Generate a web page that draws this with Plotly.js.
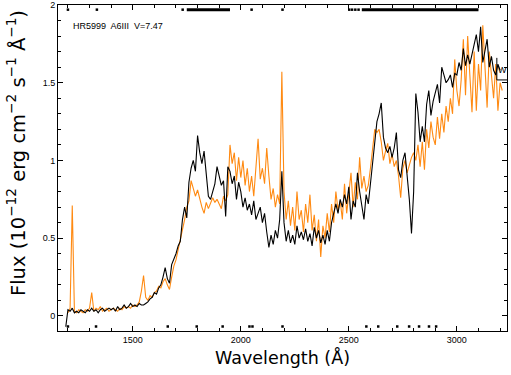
<!DOCTYPE html>
<html><head><meta charset="utf-8">
<script src="https://cdn.plot.ly/plotly-3.0.1.min.js"></script>
<style>html,body{margin:0;padding:0;background:#fff}#chart{width:511px;height:375px}</style>
</head><body><div id="chart"></div>
<script>
// Wavelength grids (Angstrom): start and step of the sampled spectra
const blackStart = 1190, orangeStart = 1200, gridStep = 10;

// Black spectrum flux (1e-12 erg cm-2 s-1 A-1), 1190..3200 every 10 A
const blackFlux = [
 -0.07,0.04,0.03,0.05,0.02,0.03,0.02,0.04,0.03,0.02,0.04,
 0.03,0.05,0.03,0.04,0.02,0.04,0.05,0.03,0.04,0.05,
 0.04,0.05,0.03,0.06,0.04,0.05,0.07,0.05,0.06,0.08,
 0.06,0.07,0.06,0.08,0.07,0.07,0.08,0.09,0.11,0.12,
 0.15,0.14,0.18,0.20,0.25,0.31,0.24,0.21,0.33,0.36,
 0.40,0.45,0.48,0.62,0.70,0.63,0.86,0.95,1.00,0.93,
 1.16,1.05,0.98,1.06,0.90,0.77,0.75,0.80,0.85,0.96,
 0.90,0.84,0.87,0.64,0.96,0.93,0.85,0.90,0.75,0.86,
 0.80,0.70,0.76,0.68,0.72,0.65,0.74,0.62,0.66,0.70,
 0.60,0.66,0.54,0.44,0.52,0.46,0.55,0.50,0.62,0.93,
 0.60,0.48,0.55,0.47,0.52,0.46,0.58,0.50,0.54,0.49,
 0.56,0.48,0.53,0.45,0.57,0.50,0.55,0.47,0.52,0.46,
 0.55,0.48,0.60,0.66,0.72,0.66,0.75,0.70,0.78,0.72,
 0.83,0.62,0.74,0.70,0.92,0.80,0.70,0.62,0.78,0.72,
 0.85,1.00,1.13,1.25,1.30,1.37,1.15,1.08,1.05,1.09,
 1.02,1.08,1.18,0.94,0.89,1.00,1.05,0.92,0.75,0.53,
 0.80,1.43,1.31,1.12,1.22,1.12,1.36,1.45,1.29,1.38,
 1.44,1.49,1.37,1.60,1.55,1.50,1.52,1.55,1.47,1.56,
 1.55,1.63,1.58,1.72,1.61,1.68,1.62,1.68,1.74,1.81,
 1.70,1.86,1.63,1.70,1.78,1.60,1.67,1.58,1.55,1.62,1.58
];

// Orange spectrum flux, 1200..3210 every 10 A
const orangeFlux = [
 0.02,0.05,0.71,0.03,0.02,0.04,0.03,0.02,0.04,0.03,
 0.05,0.15,0.03,0.05,0.04,0.06,0.03,0.04,0.05,0.03,
 0.04,0.05,0.04,0.03,0.05,0.04,0.06,0.05,0.06,0.05,
 0.07,0.06,0.07,0.09,0.16,0.26,0.12,0.10,0.13,0.12,
 0.15,0.16,0.19,0.18,0.22,0.24,0.20,0.17,0.25,0.32,
 0.36,0.42,0.50,0.55,0.62,0.70,0.74,0.87,0.82,0.77,
 0.81,0.75,0.70,0.66,0.73,0.69,0.72,0.76,0.73,0.75,
 0.72,0.69,0.77,0.74,0.78,1.10,0.98,1.05,0.87,1.02,
 0.89,1.00,0.84,0.95,0.80,0.90,0.77,0.98,1.14,0.88,
 0.95,0.85,1.08,0.90,0.75,0.82,0.70,0.78,0.72,1.57,
 0.80,0.62,0.74,0.58,0.70,0.55,0.80,0.62,0.68,0.54,
 0.72,0.60,0.78,0.55,0.65,0.48,0.62,0.38,0.58,0.50,
 0.66,0.54,0.72,0.60,0.80,0.68,0.74,0.62,0.85,0.66,
 0.80,0.92,0.70,0.86,0.75,1.02,0.82,0.90,0.80,0.84,
 0.95,1.07,1.20,1.18,1.20,1.12,1.00,1.06,1.11,0.98,
 1.04,0.96,1.00,0.90,0.76,0.95,1.00,0.92,0.98,1.02,
 1.05,1.00,1.10,0.96,1.12,0.94,1.20,1.08,1.25,1.15,
 1.10,1.28,1.14,1.30,1.18,1.35,1.25,1.40,1.30,1.65,
 1.45,1.35,1.52,1.78,1.42,1.80,1.55,1.31,1.70,1.32,
 1.62,1.45,1.87,1.60,1.34,1.70,1.52,1.40,1.62,1.32,1.50,1.45
];

// Flag wavelengths drawn along the top (bad-pixel flags) and bottom (marks)
const topBarStart = [1750, 2560];
const topBarEnd   = [1950, 3100];
const topDots = [1200, 1334, 1731, 2050, 2193, 2502, 2515, 2530, 2545];
const bottomMarks = [1200, 1330, 1662, 1796, 1916, 2040, 2054, 2193, 2581, 2636, 2724, 2779, 2825, 2871, 2904];

const xTicks = [1500, 2000, 2500, 3000];
const yTicks = [0, 0.5, 1, 1.5, 2];

function grid(start, n){ const a=[]; for(let i=0;i<n;i++) a.push(start+i*gridStep); return a; }

const topY = 1.97, botY = -0.068;
const traces = [
 {x: grid(orangeStart, orangeFlux.length), y: orangeFlux, type:'scatter', mode:'lines',
  line:{color:'#ff8a12', width:1.1}, hoverinfo:'skip'},
 {x: grid(blackStart, blackFlux.length), y: blackFlux, type:'scatter', mode:'lines',
  line:{color:'#000', width:1.1}, hoverinfo:'skip'}
];
for (let i=0;i<topBarStart.length;i++){
  traces.push({x:[topBarStart[i], topBarEnd[i]], y:[topY, topY], mode:'lines',
    line:{color:'#000', width:3}, hoverinfo:'skip'});
}
traces.push({x: topDots, y: topDots.map(()=>topY), mode:'markers',
  marker:{symbol:'square', size:2.5, color:'#000'}, hoverinfo:'skip'});
traces.push({x: bottomMarks, y: bottomMarks.map(()=>botY), mode:'markers',
  marker:{symbol:'square', size:2.5, color:'#000'}, hoverinfo:'skip'});

const axisCommon = {showline:true, mirror:'ticks', linecolor:'#000', linewidth:1,
  ticks:'inside', tickcolor:'#000', showgrid:false, zeroline:false,
  tickfont:{family:'Liberation Sans, Arial, sans-serif', size:9, color:'#000'}};

const layout = {
  width:511, height:375, showlegend:false,
  margin:{l:58, r:4, t:5, b:44},
  paper_bgcolor:'#fff', plot_bgcolor:'#fff',
  xaxis: Object.assign({}, axisCommon, {range:[1154, 3232], tickvals:xTicks, ticklen:5,
    minor:{dtick:100, ticklen:3, ticks:'inside', tickcolor:'#000', showgrid:false},
    title:{text:'Wavelength (Å)', standoff:7, font:{family:'DejaVu Sans, sans-serif', size:17.5, color:'#000'}}}),
  yaxis: Object.assign({}, axisCommon, {range:[-0.097, 2.0], tickvals:yTicks, ticklen:5,
    minor:{dtick:0.1, ticklen:3, ticks:'inside', tickcolor:'#000', showgrid:false}}),
  annotations:[
    {text:'Flux (10<sup>−12</sup> erg cm<sup>−2</sup> s<sup>−1</sup> Å<sup>−1</sup>)', textangle:-90,
     xref:'paper', yref:'paper', x:-0.092, y:0.545, xanchor:'center', yanchor:'middle', showarrow:false,
     font:{family:'DejaVu Sans, sans-serif', size:19.5, color:'#000'}},
    {text:'HR5999  A6III  V=7.47', xref:'paper', yref:'paper', x:0.03, y:0.935, xanchor:'left', yanchor:'middle',
     showarrow:false, font:{family:'Liberation Sans, Arial, sans-serif', size:9, color:'#000'}},
    {text:'W', xref:'x', yref:'y', x:3212, y:1.585, xanchor:'center', yanchor:'middle',
     showarrow:false, font:{family:'Liberation Sans, Arial, sans-serif', size:9, color:'#000'}}
  ],
  shapes:[
    {type:'path', xref:'x', yref:'y', path:'M 3185 1.66 L 3185 1.518 L 3232 1.518', line:{color:'#000', width:1}}
  ]
};
Plotly.newPlot('chart', traces, layout, {staticPlot:true, displayModeBar:false});
</script></body></html>
